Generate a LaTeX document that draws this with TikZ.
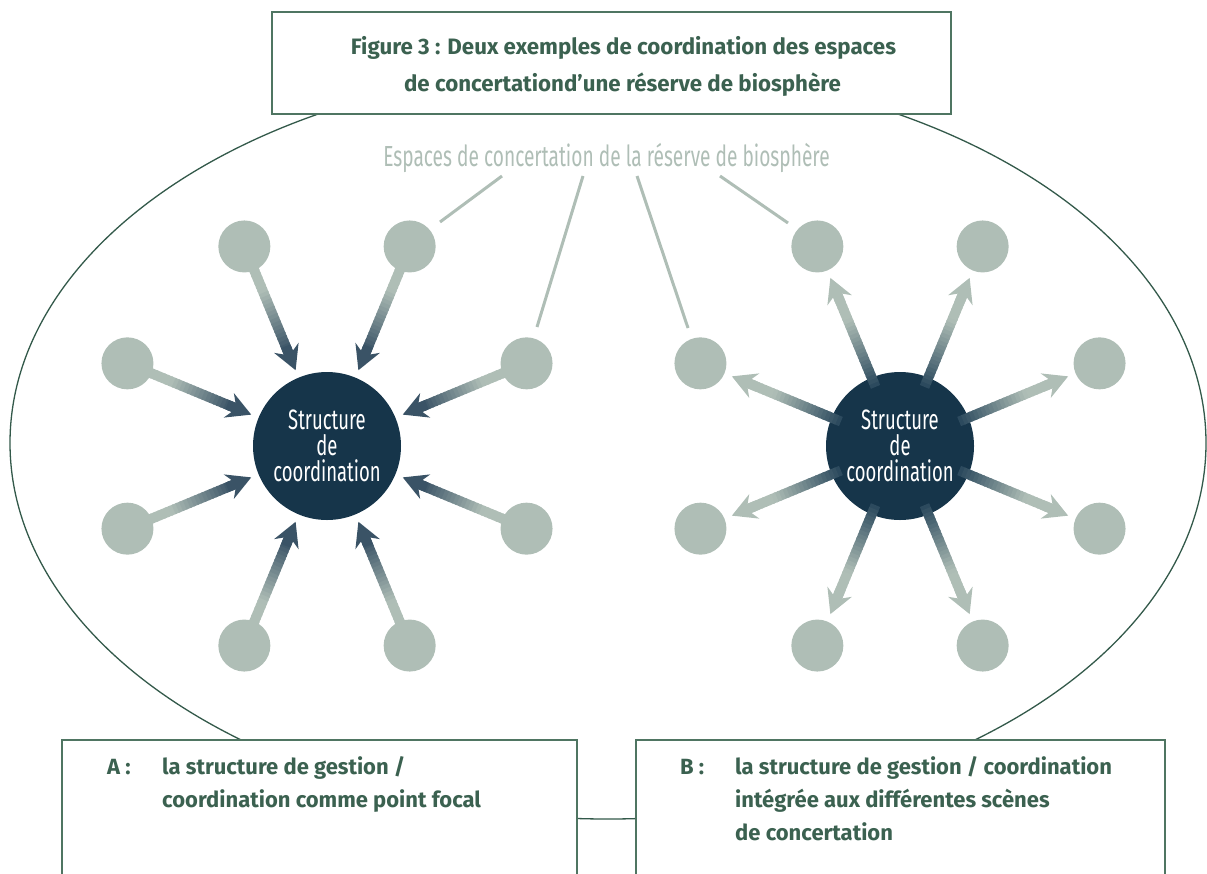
\documentclass[tikz,border=0pt]{standalone}
\usepackage{fontspec}
\setmainfont{Fira Sans}
\newfontfamily\condfont[FakeStretch=0.66]{Fira Sans}
\newfontfamily\circfont[FakeStretch=0.66]{Fira Sans}
\usetikzlibrary{arrows.meta,calc}
\definecolor{navy}{HTML}{16354A}
\definecolor{arrdark}{HTML}{3A5366}
\definecolor{arrtail}{HTML}{2C4A5E}
\definecolor{arrlight}{HTML}{AFBEB6}
\definecolor{greentext}{HTML}{3B6150}
\definecolor{greenline}{HTML}{4F7562}
\definecolor{ellcol}{HTML}{33594A}
\tikzset{
  bigc/.style={circle, fill=navy, minimum size=148pt, inner sep=0pt, text=white,
    font=\circfont\fontsize{28}{26.3}\selectfont, align=center},
  smallc/.style={circle, fill=arrlight, minimum size=52pt, inner sep=0pt},
  shaft/.style={line width=10pt, line cap=butt},
  boxst/.style={draw=greenline, line width=1.2pt, fill=white, inner sep=0pt},
  leader/.style={draw=arrlight, line width=3pt},
  btext/.style={text=greentext, font=\bfseries\fontsize{22}{24}\selectfont, anchor=base west, inner sep=0pt},
  ttext/.style={text=greentext, font=\bfseries\fontsize{22.3}{24}\selectfont, anchor=base, inner sep=0pt},
  labtext/.style={text=arrlight, font=\condfont\fontsize{29}{30}\selectfont, anchor=base, inner sep=0pt}
}
\newcommand\GradIn[2]{%
  \coordinate (t) at ($(#1)!18pt!(#2)$);
  \coordinate (p) at ($(#2)!82pt!(#1)$);
  \coordinate (h) at ($(p)!20pt!(t)$);
  \foreach \i in {0,...,23}{%
    \pgfmathsetmacro\fa{\i/24}%
    \pgfmathsetmacro\fb{(\i+1.4)/24}%
    \pgfmathsetmacro\pc{max(0,min(100,(\i/23-0.3)/0.7*100))}%
    \draw[shaft, color=arrdark!\pc!arrlight] ($(t)!\fa!(h)$) -- ($(t)!\fb!(h)$);
  }
  \draw[shaft, color=arrdark, -{Stealth[length=24pt,width=26pt,inset=8pt]}] ($(p)!26pt!(t)$) -- (p);
}
\newcommand\GradOut[2]{%
  \coordinate (t) at ($(#1)!64pt!(#2)$);
  \coordinate (p) at ($(#2)!34pt!(#1)$);
  \coordinate (h) at ($(p)!20pt!(t)$);
  \foreach \i in {0,...,23}{%
    \pgfmathsetmacro\fa{\i/24}%
    \pgfmathsetmacro\fb{(\i+1.4)/24}%
    \pgfmathsetmacro\pc{max(0,min(100,(1-(\i/23)/0.75)*100))}%
    \draw[shaft, color=arrtail!\pc!arrlight] ($(t)!\fa!(h)$) -- ($(t)!\fb!(h)$);
  }
  \draw[shaft, color=arrlight, -{Stealth[length=24pt,width=26pt,inset=8pt]}] ($(p)!26pt!(t)$) -- (p);
}
\begin{document}
\begin{tikzpicture}[x=1pt,y=-1pt]
\useasboundingbox (0,0) rectangle (1207,873);
\clip (0,0) rectangle (1207,873);

% outer ellipse
\draw[ellcol, line width=1.3pt] (608,443) ellipse [x radius=598, y radius=376];

% title
\node[boxst, minimum width=679pt, minimum height=102pt] (title) at (611.5,63) {};
\node[ttext] (t1) at (623.5,54) {Figure 3 : Deux exemples de coordination des espaces};
\node[ttext] (t2) at (622.5,91) {de concertationd’une réserve de biosphère};

% label
\node[labtext] (lab) at (606.5,166) {Espaces de concertation de la réserve de biosphère};
\coordinate (la1) at (502,176); \coordinate (lb1) at (440,222);
\coordinate (la2) at (583,176); \coordinate (lb2) at (537,327);
\coordinate (la3) at (637,176); \coordinate (lb3) at (688,328);
\coordinate (la4) at (720,176); \coordinate (lb4) at (788,223);
\draw[leader] (la1) -- (lb1);
\draw[leader] (la2) -- (lb2);
\draw[leader] (la3) -- (lb3);
\draw[leader] (la4) -- (lb4);

% left cluster
\coordinate (Lc) at (327,446);
\foreach \k/\a in {1/22.5,2/67.5,3/112.5,4/157.5,5/202.5,6/247.5,7/292.5,8/337.5}{
  \coordinate (Lp\k) at ($(Lc)+(\a:216)$);
}
\foreach \k in {1,...,8}{ \GradIn{Lp\k}{Lc} }
\node[bigc] (L) at (Lc) {Structure\\de\\coordination};
\foreach \k in {1,...,8}{ \node[smallc] (Ls\k) at (Lp\k) {}; }

% right cluster
\coordinate (Rc) at (900,446);
\foreach \k/\a in {1/22.5,2/67.5,3/112.5,4/157.5,5/202.5,6/247.5,7/292.5,8/337.5}{
  \coordinate (Rp\k) at ($(Rc)+(\a:216)$);
}
\node[bigc] (R) at (Rc) {Structure\\de\\coordination};
\foreach \k in {1,...,8}{ \node[smallc] (Rs\k) at (Rp\k) {}; }
\foreach \k in {1,...,8}{ \GradOut{Rc}{Rp\k} }

% bottom boxes
\node[boxst, minimum width=515pt, minimum height=160pt] (A) at (319.5,820) {};
\node[boxst, minimum width=529pt, minimum height=160pt] (B) at (900.5,820) {};

\node[btext] (Ak) at (107,774) {A :};
\node[btext] (A1) at (162,774) {la structure de gestion /};
\node[btext] (A2) at (162,807) {coordination comme point focal};
\node[btext] (Bk) at (680,774) {B :};
\node[btext] (B1) at (735,774) {la structure de gestion / coordination};
\node[btext] (B2) at (735,807) {intégrée aux différentes scènes};
\node[btext] (B3) at (735,840) {de concertation};
\end{tikzpicture}
\end{document}
